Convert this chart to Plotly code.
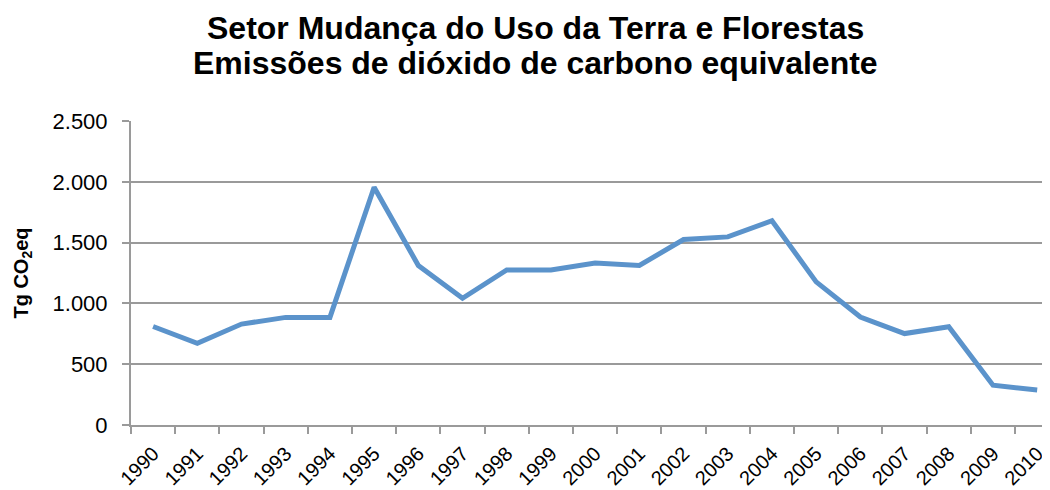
import plotly.graph_objects as go

years = [str(y) for y in range(1990, 2011)]
emissions = [810, 672, 830, 885, 885, 1955, 1312, 1042, 1275, 1275, 1333,
             1312, 1525, 1547, 1680, 1177, 888, 752, 808, 327, 288]
y_ticks = [0, 500, 1000, 1500, 2000, 2500]
y_labels = ["0", "500", "1.000", "1.500", "2.000", "2.500"]
title_lines = ["Setor Mudança do Uso da Terra e Florestas",
               "Emissões de dióxido de carbono equivalente"]

fig = go.Figure()
fig.add_trace(go.Scatter(
    x=years, y=emissions, mode="lines",
    line=dict(color="#5B93CB", width=5),
    hoverinfo="x+y",
))

# page has ~8px body margin; figure offset accordingly
fig.update_layout(
    width=1042, height=482,
    margin=dict(l=123, r=0, t=113, b=65),
    paper_bgcolor="white", plot_bgcolor="white",
    showlegend=False,
    font=dict(family="Liberation Sans, Arial, sans-serif", color="#000000"),
)
for txt, ypos in zip(title_lines, [1.305, 1.19]):
    fig.add_annotation(
        text="<b>" + txt + "</b>", xref="paper", yref="paper",
        x=0.44, y=ypos, xanchor="center", yanchor="middle",
        showarrow=False, font=dict(size=32, color="#000000"),
    )

fig.update_xaxes(
    type="category", range=[-0.5, 20.29], automargin=False,
    tickson="boundaries", ticks="outside", ticklen=7, tickwidth=2, tickcolor="#9A9A9A",
    showline=True, linecolor="#9A9A9A", linewidth=2,
    showgrid=False, tickangle=-45, ticklabelstandoff=7,
    tickfont=dict(size=20, color="#000000"),
)
fig.update_yaxes(
    range=[0, 2500], tickvals=y_ticks, ticktext=y_labels, automargin=False,
    ticks="outside", ticklen=7, tickwidth=2, tickcolor="#9A9A9A",
    showline=True, linecolor="#9A9A9A", linewidth=2,
    showgrid=True, gridcolor="#9A9A9A", gridwidth=1.5,
    zeroline=False, ticklabelstandoff=10,
    tickfont=dict(size=22, color="#000000"),
    title=dict(text="<b>Tg CO<sub>2</sub>eq</b>", font=dict(size=20, color="#000000"), standoff=19),
)

fig.write_html("out.html")
